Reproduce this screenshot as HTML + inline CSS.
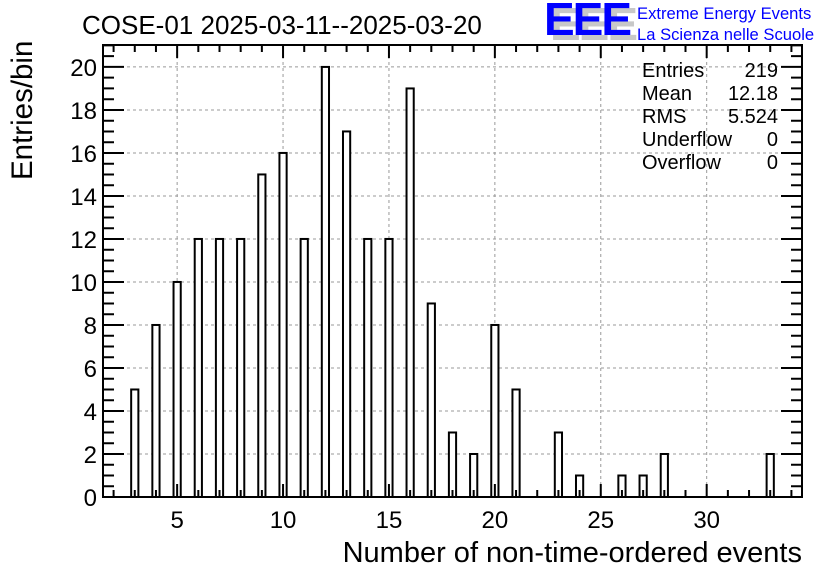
<!DOCTYPE html>
<html><head><meta charset="utf-8"><style>
html,body{margin:0;padding:0;background:#fff;}
svg text{font-family:"Liberation Sans",Arial,sans-serif;}
</style></head><body>
<svg id="chart" width="836" height="572" xmlns="http://www.w3.org/2000/svg">
<rect width="836" height="572" fill="#fff"/>
<text x="82" y="34" font-size="26">COSE-01 2025-03-11--2025-03-20</text>
<g>
<text x="550" y="40" font-size="46" font-weight="bold" fill="#c8c8c8" letter-spacing="-2">EEE</text>
<text x="544" y="35" font-size="46" font-weight="bold" fill="#0000ff" letter-spacing="-2">EEE</text>
<text x="637" y="19" font-size="16.6" fill="#0000ff">Extreme Energy Events</text>
<text x="637" y="40" font-size="16.6" fill="#0000ff">La Scienza nelle Scuole</text>
</g>
<g id="grid"></g>
<g id="bars"></g>
<g id="axes"></g>
<g font-size="20">
<text x="642" y="77">Entries</text><text x="778" y="77" text-anchor="end">219</text>
<text x="642" y="100">Mean</text><text x="778" y="100" text-anchor="end">12.18</text>
<text x="642" y="123">RMS</text><text x="778" y="123" text-anchor="end">5.524</text>
<text x="642" y="146">Underflow</text><text x="778" y="146" text-anchor="end">0</text>
<text x="642" y="169">Overflow</text><text x="778" y="169" text-anchor="end">0</text>
</g>
<text x="802" y="562" font-size="29" text-anchor="end">Number of non-time-ordered events</text>
<text transform="translate(32,180) rotate(-90)" font-size="29.5">Entries/bin</text>
</svg>
<script>
const categories=[3,4,5,6,7,8,9,10,11,12,13,14,15,16,17,18,19,20,21,23,24,26,27,28,33];
const counts=[5,8,10,12,12,12,15,16,12,20,17,12,12,19,9,3,2,8,5,3,1,1,1,2,2];
const xTicks=[5,10,15,20,25,30];
const yTicks=[0,2,4,6,8,10,12,14,16,18,20];
const X0=103,X1=802,Y0=497,Y1=45,XMIN=1.5,XMAX=34.5,YMAX=21.02;
const ns="http://www.w3.org/2000/svg";
const sx=v=>X0+(v-XMIN)/(XMAX-XMIN)*(X1-X0);
const sy=v=>Y0-v/YMAX*(Y0-Y1);
function mk(t,a,p){const e=document.createElementNS(ns,t);for(const k in a)e.setAttribute(k,a[k]);p.appendChild(e);return e;}
const grid=document.getElementById('grid'),bars=document.getElementById('bars'),axes=document.getElementById('axes');
xTicks.forEach(v=>{const l=mk('line',{x1:sx(v),x2:sx(v),y1:Y0,y2:Y1,stroke:'#999','stroke-dasharray':'3,3'},grid);

});
yTicks.forEach(v=>{const l=mk('line',{x1:X0,x2:X1,y1:sy(v),y2:sy(v),stroke:'#999','stroke-dasharray':'3,3'},grid);

});
const bw=0.34;
categories.forEach((c,i)=>{const r=mk('rect',{x:sx(c-bw/2),y:sy(counts[i]),width:sx(c+bw/2)-sx(c-bw/2),height:Y0-sy(counts[i]),fill:'#fff',stroke:'#000','stroke-width':2},bars);

});
const fr=mk('rect',{x:X0,y:Y1,width:X1-X0,height:Y0-Y1,fill:'none',stroke:'#000','stroke-width':2},axes);


let d='';
for(let v=2;v<=34;v++){const maj=v%5==0,L=maj?13:7;const x=sx(v);d+=`M${x},${Y0}v${-L}M${x},${Y1}v${L}`;}
for(let v=0;v<=21;v+=0.5){const maj=v%2==0,L=maj?21:11;const y=sy(v);d+=`M${X0},${y}h${L}M${X1},${y}h${-L}`;}
const tk=mk('path',{d:d,stroke:'#000','stroke-width':2,fill:'none'},axes);


xTicks.forEach(v=>{const t=mk('text',{x:sx(v),y:528,'font-size':24,'text-anchor':'middle'},axes);t.textContent=v;

});
yTicks.forEach(v=>{const t=mk('text',{x:97,y:sy(v)+9,'font-size':24,'text-anchor':'end'},axes);t.textContent=v;

});
</script>
</body></html>
